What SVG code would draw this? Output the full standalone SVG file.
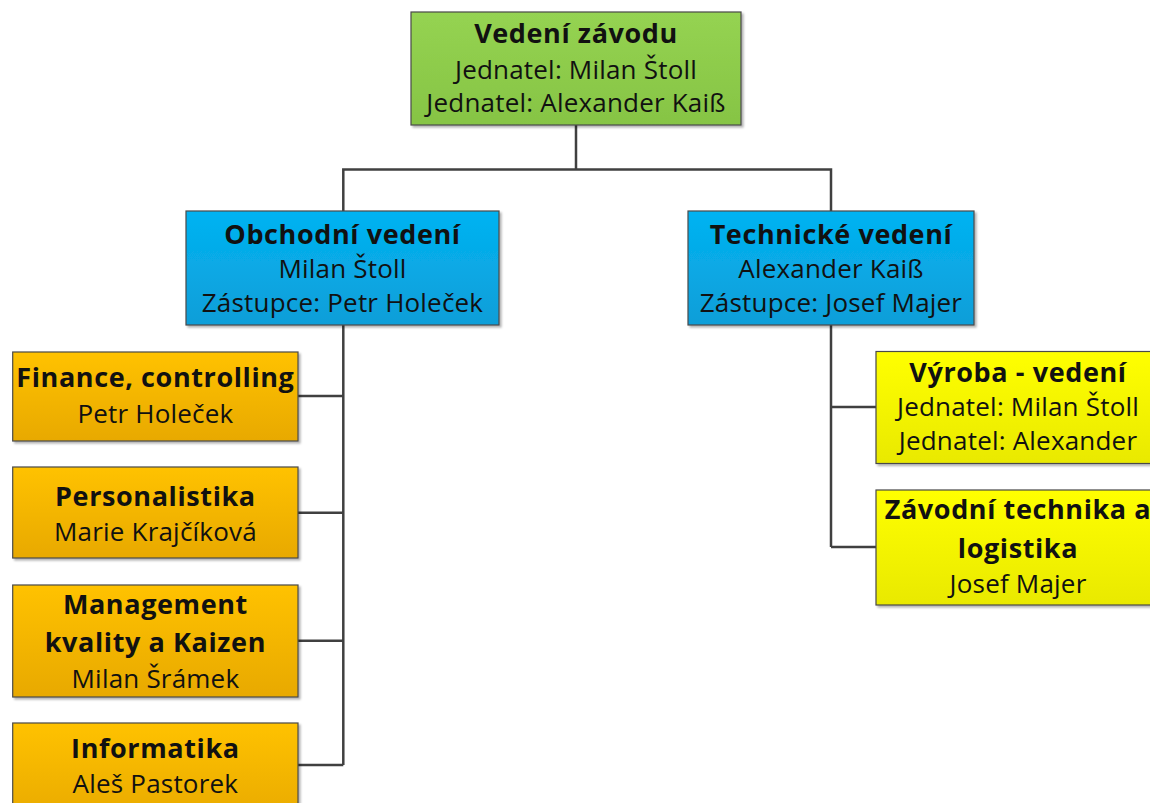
<svg xmlns="http://www.w3.org/2000/svg" width="1150" height="803" viewBox="0 0 1150 803">
  <defs>
    <linearGradient id="gGreen" x1="0" y1="0" x2="0" y2="1">
      <stop offset="0" stop-color="#95d352"/>
      <stop offset="1" stop-color="#86c444"/>
    </linearGradient>
    <linearGradient id="gBlue" x1="0" y1="0" x2="0" y2="1">
      <stop offset="0" stop-color="#03b3f2"/>
      <stop offset="1" stop-color="#0c9ed8"/>
    </linearGradient>
    <linearGradient id="gOrange" x1="0" y1="0" x2="0" y2="1">
      <stop offset="0" stop-color="#ffc200"/>
      <stop offset="1" stop-color="#e8a900"/>
    </linearGradient>
    <linearGradient id="gYellow" x1="0" y1="0" x2="0" y2="1">
      <stop offset="0" stop-color="#ffff00"/>
      <stop offset="1" stop-color="#e9e900"/>
    </linearGradient>
    <filter id="sh" x="-5%" y="-5%" width="112%" height="115%">
      <feDropShadow dx="2" dy="2" stdDeviation="1.2" flood-color="#000" flood-opacity="0.3"/>
    </filter>
  </defs>
  <style>
    .box { stroke: #4a4a4a; stroke-width: 1.2; filter: url(#sh); }
    .conn { fill: none; stroke: #404040; stroke-width: 2.5; }
    text { font-family: "Open Sans", "Noto Sans", sans-serif; font-size: 26px; letter-spacing: 0.2px; fill: #111; text-anchor: middle; }
    .t { font-weight: bold; font-size: 27px; letter-spacing: 0.6px; }
  </style>
  <rect width="1150" height="803" fill="#ffffff"/>

  <g id="connectors">
    <path class="conn" d="M576,125 V169.5 M343.3,211 V169.5 H831 V211"/>
    <path class="conn" d="M343.3,325 V765 M298,396 H343.3 M298,512.7 H343.3 M298,640.7 H343.3 M298,765 H343.3"/>
    <path class="conn" d="M831,325 V547 M831,407 H876 M831,547 H876"/>
  </g>

  <g id="vedeni-zavodu">
    <rect class="box" x="411" y="12" width="330" height="113" fill="url(#gGreen)"/>
    <text class="t" x="576" y="43">Vedení závodu</text>
    <text x="576" y="79">Jednatel: Milan Štoll</text>
    <text x="576" y="112">Jednatel: Alexander Kaiß</text>
  </g>

  <g id="obchodni-vedeni">
    <rect class="box" x="186" y="211" width="313" height="114" fill="url(#gBlue)"/>
    <text class="t" x="342.5" y="244">Obchodní vedení</text>
    <text x="342.5" y="278">Milan Štoll</text>
    <text x="342.5" y="312">Zástupce: Petr Holeček</text>
  </g>

  <g id="technicke-vedeni">
    <rect class="box" x="688" y="211" width="286" height="114" fill="url(#gBlue)"/>
    <text class="t" x="831" y="244">Technické vedení</text>
    <text x="831" y="278">Alexander Kaiß</text>
    <text x="831" y="312">Zástupce: Josef Majer</text>
  </g>

  <g id="finance">
    <rect class="box" x="12.7" y="352" width="285.3" height="89" fill="url(#gOrange)"/>
    <text class="t" x="155.4" y="387">Finance, controlling</text>
    <text x="155.4" y="422.5">Petr Holeček</text>
  </g>

  <g id="personalistika">
    <rect class="box" x="12.7" y="467" width="285.3" height="91" fill="url(#gOrange)"/>
    <text class="t" x="155.4" y="505.5">Personalistika</text>
    <text x="155.4" y="540.5">Marie Krajčíková</text>
  </g>

  <g id="management">
    <rect class="box" x="12.7" y="585" width="285.3" height="112" fill="url(#gOrange)"/>
    <text class="t" x="155.4" y="614">Management</text>
    <text class="t" x="155.4" y="652">kvality a Kaizen</text>
    <text x="155.4" y="687.5">Milan Šrámek</text>
  </g>

  <g id="informatika">
    <rect class="box" x="12.7" y="723" width="285.3" height="100" fill="url(#gOrange)"/>
    <text class="t" x="155.4" y="758">Informatika</text>
    <text x="155.4" y="793">Aleš Pastorek</text>
  </g>

  <g id="vyroba">
    <rect class="box" x="876" y="351.5" width="286" height="112" fill="url(#gYellow)"/>
    <text class="t" x="1018" y="381.5">Výroba - vedení</text>
    <text x="1018" y="415.5">Jednatel: Milan Štoll</text>
    <text x="1018" y="449.5">Jednatel: Alexander</text>
  </g>

  <g id="zavodni-technika">
    <rect class="box" x="876" y="490" width="286" height="115" fill="url(#gYellow)"/>
    <text class="t" x="1018" y="519">Závodní technika a</text>
    <text class="t" x="1018" y="557.5">logistika</text>
    <text x="1018" y="592.5">Josef Majer</text>
  </g>
</svg>
